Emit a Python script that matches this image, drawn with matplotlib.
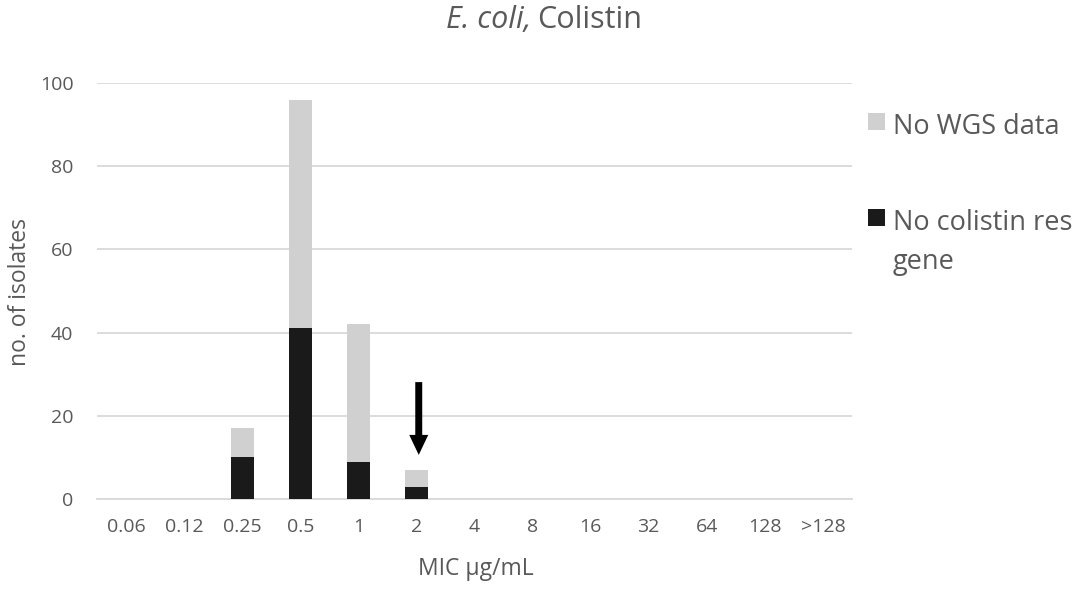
import numpy as np
import matplotlib.pyplot as plt
from matplotlib.patches import Rectangle

mic = ['0.06', '0.12', '0.25', '0.5', '1', '2', '4', '8', '16', '32', '64', '128', '>128']
no_res_gene = [0, 0, 10, 41, 9, 3, 0, 0, 0, 0, 0, 0, 0]
no_wgs = [0, 0, 7, 55, 33, 4, 0, 0, 0, 0, 0, 0, 0]

plt.rcParams['font.family'] = ['Open Sans', 'DejaVu Sans']
txt = '#595959'
c_black = '#1a1a1a'
c_grey = '#d0d0d0'

W, H = 1084, 591
fig = plt.figure(figsize=(W / 100, H / 100), dpi=100)
ax = fig.add_axes([97 / W, 1 - 499 / H, 755 / W, 416 / H])

x = np.arange(len(mic))
ax.bar(x, no_res_gene, width=0.4, color=c_black, zorder=3)
ax.bar(x, no_wgs, width=0.4, bottom=no_res_gene, color=c_grey, zorder=3)

ax.set_xlim(-0.5, len(mic) - 0.5)
ax.set_ylim(0, 100)
ax.set_yticks(np.arange(0, 101, 20))
ax.set_xticks(x)
ax.set_xticklabels(mic)
ax.yaxis.grid(True, color='#d9d9d9', linewidth=1.3, zorder=0)
for s in ['top', 'left', 'right']:
    ax.spines[s].set_visible(False)
ax.spines['bottom'].set_color('#d9d9d9')
ax.spines['bottom'].set_linewidth(1.3)
ax.tick_params(length=0, labelsize=14, colors=txt)
ax.tick_params(axis='x', pad=14)
ax.tick_params(axis='y', pad=17)

fig.text(20 / W, 1 - 292 / H, 'no. of isolates', fontsize=16.5, color=txt,
         rotation=90, ha='center', va='center')
fig.text(476 / W, 1 - 569 / H, 'MIC µg/mL', fontsize=16.5, color=txt, ha='center', va='center')
fig.text(531 / W, 1 - 20 / H, 'E. coli,', fontsize=22, style='italic', color=txt, ha='right', va='center')
fig.text(537 / W, 1 - 20 / H, 'Colistin', fontsize=22, color=txt, ha='left', va='center')

# arrow pointing at the 2 µg/mL bar
ax.annotate('', xy=(5.04, 10.6), xytext=(5.04, 28.1),
            arrowprops=dict(width=5, headwidth=13.7, headlength=14.4, shrink=0,
                            facecolor='black', edgecolor='none', linewidth=0),
            zorder=4)

# legend, drawn by hand so the marker sits on the first text line
legend_items = [('No WGS data', c_grey, [134]), ('No colistin res\ngene', c_black, [230, 269])]
for label, col, baselines in legend_items:
    lines = label.split('\n')
    yb = baselines[0]
    fig.patches.append(Rectangle((868 / W, 1 - (yb - 4) / H), 17 / W, 17 / H,
                                 transform=fig.transFigure, facecolor=col, edgecolor='none'))
    for line, b in zip(lines, baselines):
        fig.text(893 / W, 1 - b / H, line, fontsize=19.5, color=txt, ha='left', va='baseline')

fig.savefig('out.png', dpi=100)
